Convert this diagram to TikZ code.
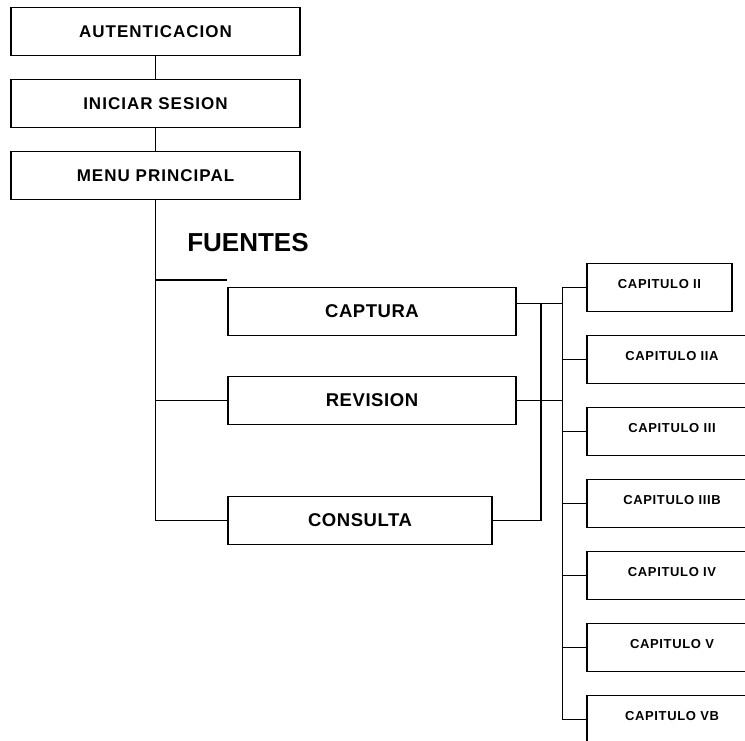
\documentclass[tikz,border=0pt]{standalone}
\usepackage{fontspec}
\setmainfont{Liberation Sans}
\usepackage{tikz}
\usetikzlibrary{shapes,arrows}
\tikzstyle{block} = [draw, rectangle, line width=1.5pt, minimum height=48pt, minimum width=289pt]
\tikzstyle{line} = [draw, line width=1.5pt]

\begin{document}
\begin{tikzpicture}[node distance=72pt, auto]
    % Define styles for blocks and lines
    \tikzstyle{block} = [draw, rectangle, line width=1.5pt, minimum height=48pt, minimum width=289pt, font=\fontsize{17pt}{20pt}\selectfont\bfseries\addfontfeature{LetterSpace=6}]
    \tikzstyle{block2} = [draw, rectangle, line width=1.5pt, minimum height=48pt, minimum width=288pt, font=\fontsize{18.5pt}{22pt}\selectfont\bfseries\addfontfeature{LetterSpace=3}]
    \tikzstyle{chapblock} = [draw, rectangle, line width=1.5pt, minimum height=48pt, minimum width=170pt, text height=9.5pt, text depth=8pt, font=\fontsize{13pt}{15pt}\selectfont\bfseries\addfontfeature{LetterSpace=5}]
    \tikzstyle{line} = [draw, line width=1.5pt]
    \useasboundingbox (0,0) rectangle (745pt,-740pt);

    % Place nodes
    \node [block] (auth) at (155.5pt,-31.5pt) {AUTENTICACION};
    \node [block, below of = auth] (login) {INICIAR SESION};
    \node [block, below of = login] (menu) {MENU PRINCIPAL};
    \node [below of = menu, xshift=92.5pt, yshift=5pt, font=\fontsize{26pt}{30pt}\selectfont\bfseries] (fuentes) {FUENTES};

    \node [block2, below of = menu, xshift=216.5pt, yshift=-64pt] (captura) {CAPTURA};
    \node [block2, below of = captura, yshift=-17pt] (revision) {REVISION};
    \node [block2, below of = revision, xshift=-12pt, yshift=-48pt, minimum width=264pt] (consulta) {CONSULTA};

    \node [chapblock, right of = captura, xshift=215.5pt, yshift=24pt, minimum width=145pt] (capii) {CAPITULO II};
    \node [chapblock, below of = capii, xshift=12.5pt] (capiia) {CAPITULO IIA};
    \node [chapblock, below of = capiia] (capiii) {CAPITULO III};
    \node [chapblock, below of = capiii] (capiiib) {CAPITULO IIIB};
    \node [chapblock, below of = capiiib] (capiv) {CAPITULO IV};
    \node [chapblock, below of = capiv] (capv) {CAPITULO V};
    \node [chapblock, below of = capv] (capvb) {CAPITULO VB};

    \coordinate (stub) at ([yshift=7pt]captura.north west);
    \coordinate (busa) at ([xshift=24pt,yshift=8pt]captura.east);
    \coordinate (busb) at ([xshift=-24pt]capii.west);

    % Draw edges
    \path [line] (auth) -- (login);
    \path [line] (login) -- (menu);
    \path [line] (menu.south) -- (menu.south |- consulta.west) -- (consulta.west);
    \path [line] (menu.south |- stub) -- (stub);
    \path [line] (menu.south |- revision.west) -- (revision.west);
    \path [line] ([yshift=8pt]captura.east) -- ([yshift=8pt]captura.east -| busb);
    \path [line] (revision.east) -- (revision.east -| busb);
    \path [line] (busa) -- (busa |- consulta.east) -- (consulta.east);
    \path [line] (busb) -- (busb |- capvb.west);
    \foreach \cap in {capii,capiia,capiii,capiiib,capiv,capv,capvb}
        \path [line] (busb |- \cap.west) -- (\cap.west);
\end{tikzpicture}
\end{document}
